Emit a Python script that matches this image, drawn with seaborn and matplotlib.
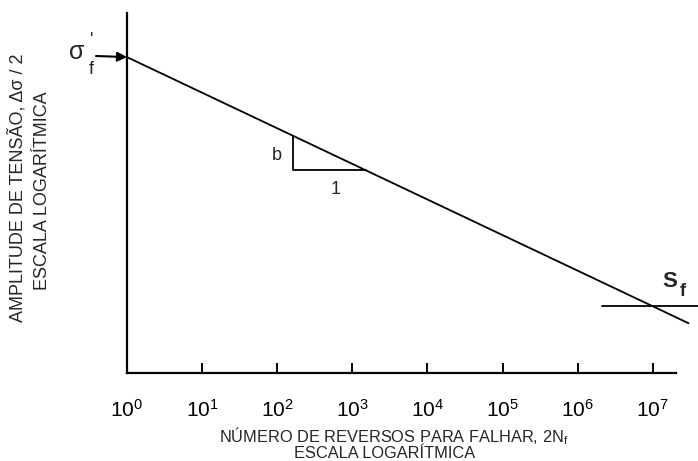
import matplotlib
matplotlib.use("Agg")
import matplotlib.pyplot as plt
import seaborn as sns
import pandas as pd

sns.set_theme(style="white")
plt.rcParams["font.family"] = ["Liberation Sans", "DejaVu Sans"]
plt.rcParams["mathtext.fontset"] = "custom"
plt.rcParams["mathtext.rm"] = "Liberation Sans"
plt.rcParams["mathtext.it"] = "Liberation Sans"
plt.rcParams["mathtext.bf"] = "Liberation Sans:bold"

# Basquin line: stress amplitude vs. reversals to failure (log-log)
reversals = [1.0, 3.0e7]
amplitude = [1000.0, 178.6]

# slope triangle (rise b over the run "1")
tri_reversals = [160.0, 160.0, 1500.0]
tri_amplitude = [602.0, 481.0, 481.0]

# fatigue limit S_f
limit_reversals = [2.1e6, 4.0e7]
limit_amplitude = [199.5, 199.5]

decades = [0, 1, 2, 3, 4, 5, 6, 7]
tick_labels = [f"$10^{{{d}}}$" for d in decades]

line_df = pd.DataFrame({"2Nf": reversals, "amp": amplitude})
tri_df = pd.DataFrame({"2Nf": tri_reversals, "amp": tri_amplitude})
lim_df = pd.DataFrame({"2Nf": limit_reversals, "amp": limit_amplitude})

fig = plt.figure(figsize=(6.98, 4.61), dpi=100)
ax = fig.add_axes([127 / 698, 1 - 373 / 461, 549 / 698, 360 / 461])

kw = dict(color="black", linewidth=1.3, sort=False, estimator=None, legend=False)
sns.lineplot(data=line_df, x="2Nf", y="amp", ax=ax, clip_on=False, **kw)
sns.lineplot(data=tri_df, x="2Nf", y="amp", ax=ax, **kw)
sns.lineplot(data=lim_df, x="2Nf", y="amp", ax=ax, clip_on=False, **kw)

ax.set_xscale("log")
ax.set_yscale("log")
ax.set_xlim(1.0, 10 ** 7.31)
ax.set_ylim(1000 * 10 ** -0.888, 1000 * 10 ** 0.124)

ax.set_xticks([10.0 ** d for d in decades])
ax.set_xticklabels(tick_labels)
ax.xaxis.set_minor_locator(matplotlib.ticker.NullLocator())
ax.yaxis.set_minor_locator(matplotlib.ticker.NullLocator())
ax.set_yticks([])
ax.tick_params(axis="x", direction="in", length=7, width=1.4, pad=19,
               labelsize=15, colors="black", bottom=True)
ax.set_xlabel("")
ax.set_ylabel("")

for side in ("top", "right"):
    ax.spines[side].set_visible(False)
for side in ("left", "bottom"):
    ax.spines[side].set_color("black")
    ax.spines[side].set_linewidth(1.6)

# axis titles
fig.text(394 / 698, 1 - 436 / 461, "NÚMERO DE REVERSOS PARA FALHAR, 2N$_\\mathregular{f}$",
         ha="center", va="center", fontsize=11.8)
fig.text(385 / 698, 1 - 453 / 461, "ESCALA LOGARÍTMICA",
         ha="center", va="center", fontsize=11.8)
fig.text(17 / 698, 1 - 188 / 461, "AMPLITUDE DE TENSÃO, Δσ / 2",
         ha="center", va="center", rotation=90, fontsize=13)
fig.text(43 / 698, 1 - 191 / 461, "ESCALA LOGARÍTMICA",
         ha="center", va="center", rotation=90, fontsize=13)

# sigma'_f marker with arrow to the axis
fig.text(77 / 698, 1 - 52 / 461, "σ", ha="center", va="center", fontsize=18)
fig.text(92 / 698, 1 - 41 / 461, "'", ha="center", va="center", fontsize=13)
fig.text(91 / 698, 1 - 69 / 461, "f", ha="center", va="center", fontsize=13)
ax.annotate("", xy=(reversals[0], amplitude[0]), xycoords="data",
            xytext=(96 / 698, 1 - 56 / 461), textcoords="figure fraction",
            arrowprops=dict(arrowstyle="-|>", color="black", lw=1.5,
                            mutation_scale=14, shrinkA=0, shrinkB=0),
            annotation_clip=False)

# slope triangle labels
fig.text(277 / 698, 1 - 155 / 461, "b", ha="center", va="center", fontsize=13)
fig.text(336 / 698, 1 - 190 / 461, "1", ha="center", va="center", fontsize=13)

# fatigue limit label
fig.text(670 / 698, 1 - 281 / 461, "S", ha="center", va="center",
         fontsize=16, fontweight="bold")
fig.text(683 / 698, 1 - 292 / 461, "f", ha="center", va="center",
         fontsize=13, fontweight="bold")

fig.savefig("out.png", dpi=100)
